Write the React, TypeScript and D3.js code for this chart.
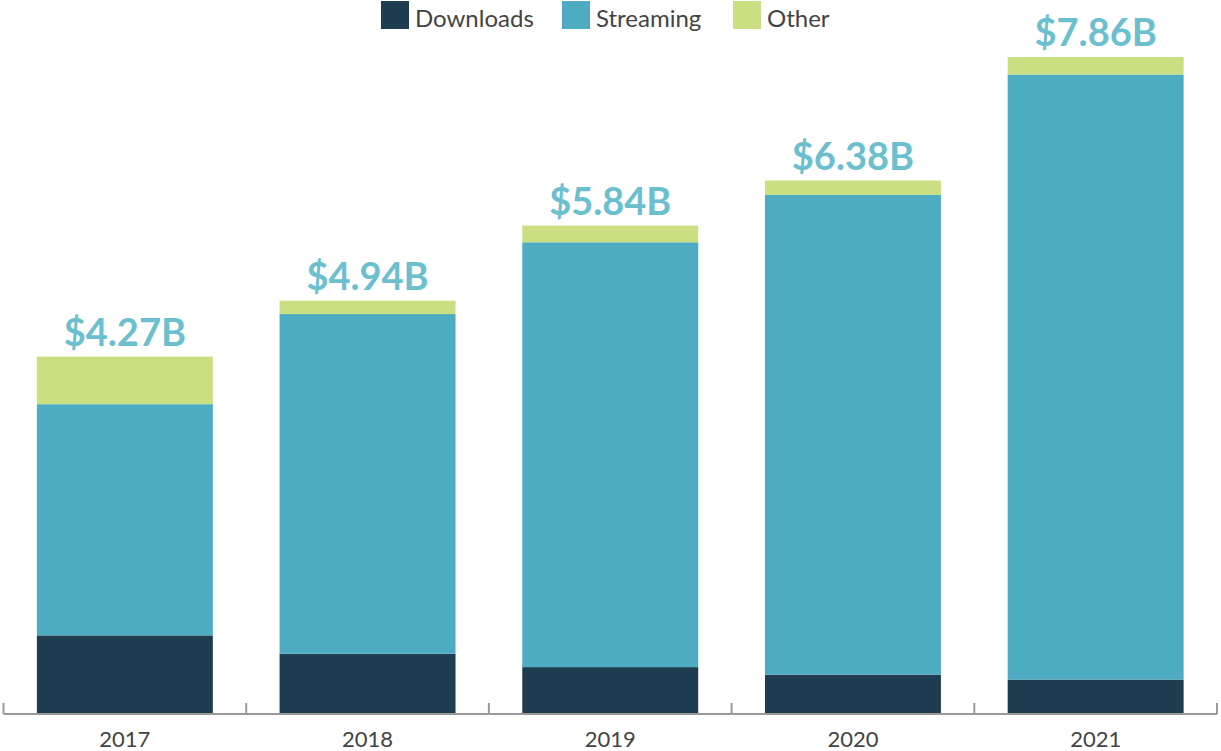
import React from "react";
import * as d3 from "d3";

const years = ["2017", "2018", "2019", "2020", "2021"];
const downloads = [0.93, 0.71, 0.55, 0.46, 0.4];
const streaming = [2.77, 4.07, 5.09, 5.75, 7.25];
const other = [0.57, 0.16, 0.2, 0.17, 0.21];
const totals = ["$4.27B", "$4.94B", "$5.84B", "$6.38B", "$7.86B"];

const seriesKeys = ["Downloads", "Streaming", "Other"];
const colors = ["#1F3D51", "#4DACC1", "#C9DF82"];

const width = 1221;
const height = 751;

export default function App() {
  const rows = years.map((year, i) => ({
    year,
    Downloads: downloads[i],
    Streaming: streaming[i],
    Other: other[i],
  }));

  const stack = d3.stack<any>().keys(seriesKeys);
  const layers = stack(rows);

  const x = d3.scaleBand().domain(years).range([3.5, 1217]).paddingInner(0.275).paddingOuter(0.1375);
  const xTicks = d3.scaleBand().domain(years).range([3.5, 1217]);
  const y = d3.scaleLinear().domain([0, 7.86]).range([713, 57]);
  const color = d3.scaleOrdinal<string>().domain(seriesKeys).range(colors);

  const boundaries = years.map((yr) => xTicks(yr) as number).concat([1217]);

  const legendX = [381, 562, 733];

  return (
    <svg
      width={width}
      height={height}
      style={{ position: "absolute", left: 0, top: 0, fontFamily: "Lato, 'Open Sans', sans-serif" }}
    >
      <rect width={width} height={height} fill="#fff" />

      {/* legend */}
      {seriesKeys.map((k, i) => (
        <g key={k} transform={`translate(${legendX[i]},1)`}>
          <rect width={28} height={28} fill={color(k)} />
          <text x={34} y={26} fontSize={24} fill="#444">
            {k}
          </text>
        </g>
      ))}

      {/* stacked bars */}
      {layers.map((layer) => (
        <g key={layer.key} fill={color(layer.key)}>
          {layer.map((d, i) => (
            <rect
              key={i}
              x={x(d.data.year)}
              y={y(d[1])}
              width={x.bandwidth()}
              height={y(d[0]) - y(d[1])}
            />
          ))}
        </g>
      ))}

      {/* total labels */}
      {years.map((yr, i) => {
        const top = layers[layers.length - 1][i][1];
        return (
          <text
            key={yr}
            x={(x(yr) as number) + x.bandwidth() / 2}
            y={y(top) - 11}
            textAnchor="middle"
            fontSize={38}
            fontWeight="bold"
            fill="#6BBFCF"
          >
            {totals[i]}
          </text>
        );
      })}

      {/* x axis */}
      <g stroke="#9A9A9A" strokeWidth={2} fill="none">
        <line x1={3.5} x2={1217} y1={714} y2={714} />
        {boundaries.map((bx, i) => (
          <line key={i} x1={bx} x2={bx} y1={703} y2={714} />
        ))}
      </g>
      {years.map((yr) => (
        <text
          key={yr}
          x={(xTicks(yr) as number) + xTicks.bandwidth() / 2}
          y={747}
          textAnchor="middle"
          fontSize={22}
          fill="#444"
        >
          {yr}
        </text>
      ))}
    </svg>
  );
}
